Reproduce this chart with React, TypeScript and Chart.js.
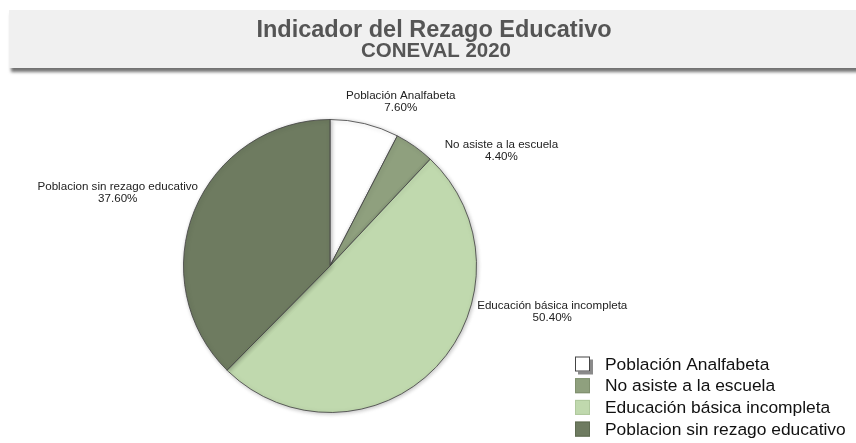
import React, { useEffect, useRef } from "react";
import { Chart, registerables } from "chart.js";

Chart.register(...registerables);

const categories = [
  "Población Analfabeta",
  "No asiste a la escuela",
  "Educación básica incompleta",
  "Poblacion sin rezago educativo",
];
const values = [7.6, 4.4, 50.4, 37.6];
const sliceColors = ["#ffffff", "#8fa07e", "#c0d9ae", "#6e7b60"];
const legendBorders = ["#444444", "#7f8f6e", "#afc89d", "#5e6b51"];
const titleLines = ["Indicador del Rezago Educativo", "CONEVAL 2020"];
// label anchor offsets, in units of the pie radius, from the pie centre
const labelDX = [0.483, 1.17, 1.517, -1.449];
const labelDY = [-1.119, -0.789, 0.31, -0.5];

const FONT = "Arial, 'Liberation Sans', Helvetica, sans-serif";

const decorPlugin = {
  id: "decor",
  beforeDraw(chart: any) {
    const ctx = chart.ctx;
    ctx.save();
    ctx.shadowColor = "rgba(0,0,0,0.55)";
    ctx.shadowBlur = 3;
    ctx.shadowOffsetX = 2;
    ctx.shadowOffsetY = 4;
    ctx.fillStyle = "#f0f0f0";
    ctx.fillRect(9, 10, 860, 58);
    ctx.restore();
    ctx.save();
    ctx.textAlign = "center";
    ctx.textBaseline = "alphabetic";
    ctx.fillStyle = "#555555";
    ctx.font = `bold 23.5px ${FONT}`;
    ctx.fillText(titleLines[0], 434, 37);
    ctx.font = `bold 20.5px ${FONT}`;
    ctx.fillText(titleLines[1], 436, 57);
    ctx.restore();
  },
  beforeDatasetsDraw(chart: any) {
    const ctx = chart.ctx;
    ctx.save();
    ctx.shadowColor = "rgba(0,0,0,0.25)";
    ctx.shadowBlur = 4;
    ctx.shadowOffsetX = 1;
    ctx.shadowOffsetY = 1;
  },
  afterDatasetsDraw(chart: any) {
    chart.ctx.restore();
  },
  afterDraw(chart: any) {
    const ctx = chart.ctx;
    const meta = chart.getDatasetMeta(0);
    const data = chart.data.datasets[0].data as number[];
    ctx.save();
    ctx.fillStyle = "#222222";
    ctx.textAlign = "center";
    ctx.textBaseline = "middle";
    ctx.font = `11.6px ${FONT}`;
    meta.data.forEach((arc: any, i: number) => {
      const r = arc.outerRadius;
      const x = arc.x + labelDX[i] * r;
      const y = arc.y + labelDY[i] * r;
      ctx.fillText(String(chart.data.labels[i]), x, y - 6);
      ctx.fillText(data[i].toFixed(2) + "%", x, y + 6);
    });
    ctx.restore();

    // legend
    ctx.save();
    const bx = 575;
    const size = 15;
    const rowStart = 364;
    const rowGap = 21.7;
    ctx.font = `17.4px ${FONT}`;
    ctx.textAlign = "left";
    ctx.textBaseline = "middle";
    categories.forEach((c, i) => {
      const cy = rowStart + i * rowGap;
      const by = cy - size / 2;
      if (i === 0) {
        ctx.fillStyle = "#8a8a8a";
        ctx.fillRect(bx + 3, by + 3, size, size);
      }
      ctx.fillStyle = sliceColors[i];
      ctx.fillRect(bx, by, size, size);
      ctx.strokeStyle = legendBorders[i];
      ctx.lineWidth = 1;
      ctx.strokeRect(bx + 0.5, by + 0.5, size - 1, size - 1);
      ctx.fillStyle = "#111111";
      ctx.fillText(c, 605, cy + 1);
    });
    ctx.restore();
  },
};

export default function App() {
  const ref = useRef<HTMLCanvasElement | null>(null);
  useEffect(() => {
    if (!ref.current) return;
    const chart = new Chart(ref.current, {
      type: "pie",
      data: {
        labels: categories,
        datasets: [
          {
            data: values,
            backgroundColor: sliceColors,
            borderColor: "rgba(70,70,70,0.85)",
            borderWidth: 1,
          },
        ],
      },
      options: {
        responsive: false,
        animation: false,
        layout: { padding: { left: 183, right: 379, top: 119, bottom: 30 } },
        plugins: {
          legend: { display: false },
          title: { display: false },
          tooltip: { enabled: false },
        },
      },
      plugins: [decorPlugin],
    });
    return () => chart.destroy();
  }, []);
  return (
    <div style={{ position: "fixed", left: 0, top: 0, width: 856, height: 443, background: "#ffffff" }}>
      <canvas ref={ref} width={856} height={443} style={{ display: "block" }} />
    </div>
  );
}
